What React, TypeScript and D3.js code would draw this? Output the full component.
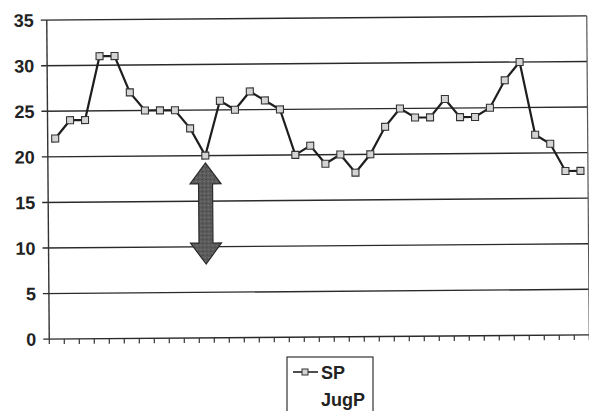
import React from "react";
import * as d3 from "d3";

// SP readings, one per category slot along the x axis
const spValues: number[] = [
  22, 24, 24, 31, 31, 27, 25, 25, 25, 23, 20, 26, 25, 27, 26, 25, 20, 21,
  19, 20, 18, 20, 23, 25, 24, 24, 26, 24, 24, 25, 28, 30, 22, 21, 18, 18,
];
const categories: number[] = spValues.map((_, i) => i + 1);
const yTicks: number[] = [0, 5, 10, 15, 20, 25, 30, 35];
const legendLabels: string[] = ["SP", "JugP"];
// Vertical span marked by the double arrow (in data units)
const arrowSpan: [number, number] = [19.2, 8.1];

const W = 589;
const H = 411;
const M = { left: 48, right: 588, top: 18, bottom: 337 };

export default function App() {
  const x = d3
    .scaleBand<number>()
    .domain(categories)
    .range([M.left, M.right]);
  const y = d3.scaleLinear().domain([0, 35]).range([M.bottom, M.top]);

  const line = d3
    .line<number>()
    .x((_, i) => (x(categories[i]) as number) + x.bandwidth() / 2)
    .y((d) => y(d));

  const ax = (x(11) as number) + x.bandwidth() / 2;
  const aTop = y(arrowSpan[0]);
  const aBot = y(arrowSpan[1]);
  const headH = 21;
  const headW = 15.5;
  const shaftW = 7;
  const arrowPath = [
    [ax, aTop],
    [ax + headW, aTop + headH],
    [ax + shaftW, aTop + headH],
    [ax + shaftW, aBot - headH],
    [ax + headW, aBot - headH],
    [ax, aBot],
    [ax - headW, aBot - headH],
    [ax - shaftW, aBot - headH],
    [ax - shaftW, aTop + headH],
    [ax - headW, aTop + headH],
  ]
    .map((p, i) => (i === 0 ? "M" : "L") + p[0] + "," + p[1])
    .join("") + "Z";

  const font = "'Liberation Sans', Arial, sans-serif";
  const tickXs = d3.range(categories.length + 1).map(
    (i) => M.left + i * x.bandwidth()
  );

  return (
    <svg
      width={W}
      height={H}
      style={{ position: "absolute", left: 0, top: 0, background: "#fff" }}
    >
      <defs>
        <pattern id="grain" width="4" height="4" patternUnits="userSpaceOnUse">
          <rect width="4" height="4" fill="#5a5a5a" />
          <rect x="0" y="0" width="1" height="1" fill="#7a7a7a" />
          <rect x="2" y="2" width="1" height="1" fill="#444" />
          <rect x="3" y="0" width="1" height="1" fill="#6a6a6a" />
        </pattern>
      </defs>
      <g transform={`rotate(-0.45, ${(M.left + M.right) / 2}, ${(M.top + M.bottom) / 2})`}>
        {/* horizontal gridlines and left ticks */}
        {yTicks.map((t) => (
          <g key={t}>
            <line
              x1={M.left - 6}
              x2={M.right}
              y1={y(t)}
              y2={y(t)}
              stroke="#2a2a2a"
              strokeWidth={1.4}
            />
            <text
              x={35}
              y={y(t)}
              dy="0.36em"
              textAnchor="end"
              fontFamily={font}
              fontWeight="bold"
              fontSize={18}
              fill="#222"
            >
              {t}
            </text>
          </g>
        ))}
        {/* axes frame */}
        <line x1={M.left} x2={M.left} y1={M.top} y2={M.bottom} stroke="#333" strokeWidth={1.4} />
        <line x1={M.right} x2={M.right} y1={M.top} y2={M.bottom} stroke="#555" strokeWidth={1.2} />
        {/* category ticks along the bottom axis */}
        {tickXs.map((tx, i) => (
          <line
            key={i}
            x1={tx}
            x2={tx}
            y1={M.bottom}
            y2={M.bottom + 5}
            stroke="#333"
            strokeWidth={1.2}
          />
        ))}
        {/* SP series */}
        <path d={line(spValues) || ""} fill="none" stroke="#1e1e1e" strokeWidth={2.2} />
        {spValues.map((v, i) => (
          <rect
            key={i}
            x={(x(categories[i]) as number) + x.bandwidth() / 2 - 3.5}
            y={y(v) - 3.5}
            width={7}
            height={7}
            fill="#d4d4d4"
            stroke="#333"
            strokeWidth={1.1}
          />
        ))}
        {/* double arrow */}
        <path d={arrowPath} fill="url(#grain)" stroke="#2a2a2a" strokeWidth={1.2} />
      </g>
      {/* legend */}
      <g>
        <rect x={287} y={357} width={86} height={70} fill="#fff" stroke="#333" strokeWidth={1.2} />
        <line x1={293} x2={318} y1={372} y2={372} stroke="#222" strokeWidth={1.6} />
        <rect x={302} y={369} width={6} height={6} fill="#d4d4d4" stroke="#333" strokeWidth={1} />
        <text x={321} y={379} fontFamily={font} fontWeight="bold" fontSize={18} fill="#222">
          {legendLabels[0]}
        </text>
        <text x={321} y={406} fontFamily={font} fontWeight="bold" fontSize={18} fill="#222">
          {legendLabels[1]}
        </text>
      </g>
    </svg>
  );
}
